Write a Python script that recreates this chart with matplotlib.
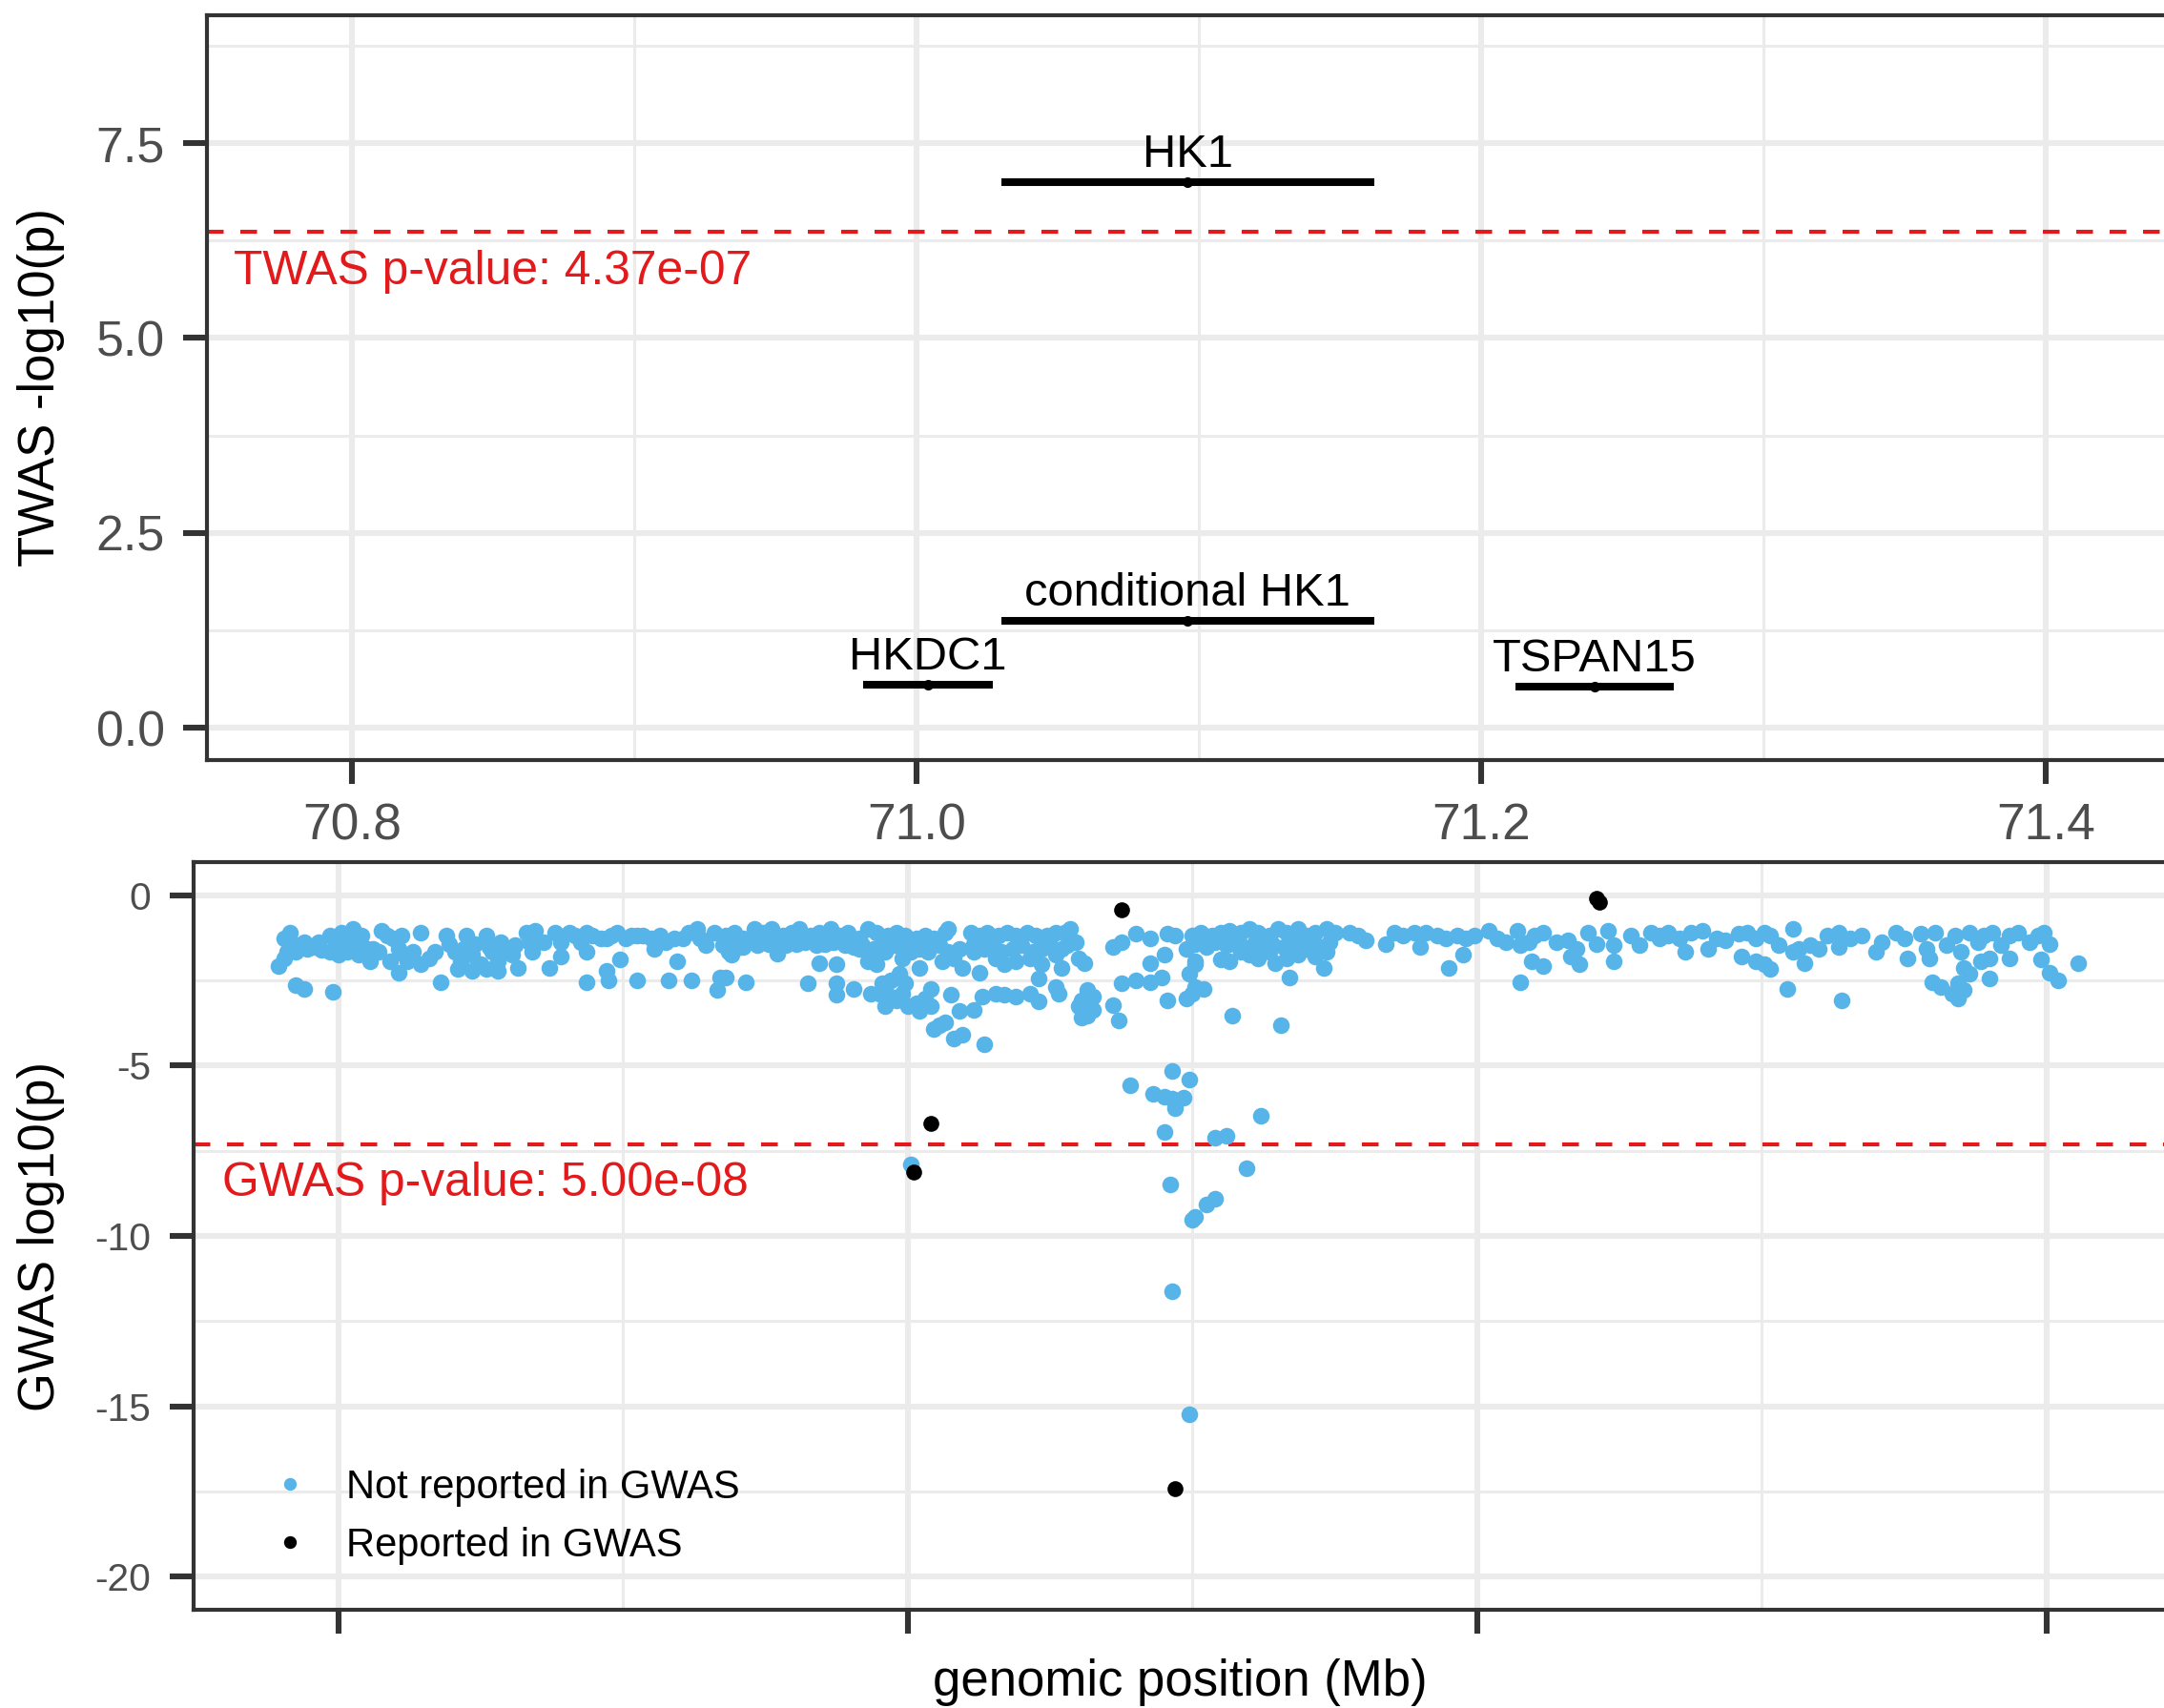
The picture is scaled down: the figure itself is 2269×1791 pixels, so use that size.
import numpy as np
import matplotlib
matplotlib.use("Agg")
import matplotlib.pyplot as plt
from matplotlib.lines import Line2D
from matplotlib.ticker import MultipleLocator, FormatStrFormatter

plt.rcParams['font.family'] = ['Liberation Sans', 'DejaVu Sans']
plt.rcParams['axes.unicode_minus'] = False

# TWAS genes (Mb, -log10 p)
genes = ['HKDC1', 'HK1', 'conditional HK1', 'TSPAN15']
gene_start = [70.981, 71.030, 71.030, 71.212]
gene_end = [71.027, 71.162, 71.162, 71.268]
gene_logp = [0.55, 7.00, 1.37, 0.53]

twas_p = 4.37e-07
gwas_p = 5.00e-08

# GWAS SNPs not reported in GWAS (Mb, log10 p)
snp_pos = [
    # 70.78 - 70.94
    70.779, 70.781, 70.783, 70.782, 70.781, 70.784, 70.786, 70.788, 70.791, 70.794,
    70.797, 70.797, 70.799, 70.801, 70.803, 70.805, 70.806, 70.808, 70.811, 70.812,
    70.815, 70.814, 70.817, 70.819, 70.822, 70.818, 70.821, 70.824, 70.826, 70.829,
    70.829, 70.832, 70.834, 70.836, 70.838, 70.841, 70.843, 70.845, 70.847, 70.850,
    70.852, 70.854, 70.856, 70.858, 70.861, 70.863, 70.866, 70.868, 70.869, 70.872,
    70.874, 70.876, 70.878, 70.881, 70.883, 70.885, 70.887, 70.887, 70.889, 70.894,
    70.894, 70.895, 70.898, 70.899, 70.903, 70.905, 70.907, 70.911, 70.913, 70.916,
    70.918, 70.919, 70.923, 70.924, 70.926, 70.929, 70.933, 70.934, 70.936, 70.937,
    70.785, 70.788, 70.798,
    70.839, 70.844, 70.848, 70.853, 70.857, 70.862, 70.842, 70.847, 70.852, 70.856,
    70.821, 70.823, 70.800, 70.802, 70.807, 70.810, 70.785, 70.789, 70.793, 70.867,
    70.878, 70.887, 70.892, 70.896, 70.901, 70.905, 70.910, 70.915, 70.921, 70.927,
    70.932, 70.935,
    # 70.94 - 71.10
    70.936, 70.939, 70.942, 70.946, 70.949, 70.952, 70.956, 70.959, 70.962, 70.966,
    70.969, 70.973, 70.976, 70.979, 70.983, 70.986, 70.989, 70.993, 70.996, 70.999,
    71.003, 71.006, 71.009, 71.013, 71.014, 71.022, 71.025, 71.028, 71.032, 71.035,
    71.038, 71.042, 71.045, 71.049, 71.052, 71.055, 71.057, 71.059,
    70.937, 70.941, 70.944, 70.947, 70.951, 70.954, 70.957, 70.961, 70.964, 70.968,
    70.971, 70.974, 70.978, 70.981, 70.984, 70.988, 70.991, 70.994, 70.998, 71.001,
    71.004, 71.008, 71.011, 71.014, 71.018, 71.023, 71.027, 71.030, 71.033, 71.037,
    71.040, 71.044, 71.047, 71.050, 71.054, 71.056,
    70.938, 70.942, 70.954, 70.969, 70.975, 70.983, 70.986, 70.989, 70.992, 70.995,
    70.998, 71.004, 71.007, 71.012, 71.016, 71.019, 71.025, 71.023, 71.031, 71.034,
    71.038, 71.043, 71.047, 71.052, 71.054, 71.060, 71.062,
    70.936, 70.943, 70.965, 70.975, 70.975, 70.981, 70.987, 70.991, 70.994, 70.997,
    70.999, 70.992, 70.996, 71.000, 71.004, 71.008, 71.008, 71.015, 71.018, 71.023,
    71.026, 71.031, 71.034, 71.038, 71.043, 71.046, 71.046, 71.052, 71.053, 71.061,
    71.063, 71.065, 71.061, 71.065, 71.072, 71.074, 71.075, 71.080, 71.085, 71.089,
    71.085, 71.090, 71.091, 71.098, 71.099, 71.101, 71.101,
    70.994, 70.998, 71.003, 71.006, 70.990, 71.062, 71.063, 71.060,
    71.009, 71.013, 71.016, 71.019, 71.027, 71.011,
    71.072, 71.075, 71.080, 71.085, 71.091, 71.094, 71.098, 71.101,
    # 71.10 - 71.27
    71.100, 71.103, 71.107, 71.110, 71.113, 71.117, 71.120, 71.123, 71.127, 71.130,
    71.133, 71.137, 71.140, 71.143, 71.147, 71.150, 71.155, 71.158, 71.161, 71.168,
    71.171, 71.174, 71.178, 71.180, 71.182, 71.186, 71.189, 71.193, 71.196, 71.199,
    71.204, 71.207, 71.210, 71.214, 71.215, 71.218, 71.220, 71.223, 71.228, 71.232,
    71.235, 71.239, 71.242, 71.246, 71.248, 71.254, 71.257, 71.261, 71.264, 71.267,
    71.101, 71.105, 71.108, 71.112, 71.115, 71.118, 71.122, 71.125, 71.128, 71.132,
    71.135, 71.138, 71.142, 71.145, 71.148,
    71.101, 71.110, 71.113, 71.117, 71.120, 71.123, 71.127, 71.129, 71.133, 71.137,
    71.140, 71.143, 71.146, 71.147, 71.190, 71.195, 71.219, 71.223, 71.233, 71.236,
    71.248,
    71.100, 71.104, 71.134, 71.215, 71.114, 71.131,
    # 71.26 - 71.41
    71.264, 71.267, 71.271, 71.273, 71.275, 71.279, 71.281, 71.284, 71.287, 71.292,
    71.295, 71.298, 71.301, 71.303, 71.306, 71.311, 71.313, 71.317, 71.320, 71.323,
    71.327, 71.327, 71.331, 71.335, 71.340, 71.342, 71.347, 71.350, 71.351, 71.356,
    71.358, 71.359, 71.361, 71.365, 71.368, 71.370, 71.373, 71.376, 71.378, 71.381,
    71.384, 71.387, 71.387, 71.390, 71.394, 71.397, 71.399, 71.401, 71.411,
    71.293, 71.298, 71.301, 71.303, 71.311, 71.315, 71.371, 71.373, 71.377, 71.380,
    71.380, 71.398, 71.401, 71.404,
    71.309, 71.328, 71.360, 71.363, 71.367, 71.369, 71.371, 71.369,
    # strong signal near HK1
    71.078, 71.093, 71.099, 71.086, 71.090, 71.093, 71.097, 71.094, 71.094, 71.124,
    71.090, 71.108, 71.112, 71.001, 71.119, 71.092, 71.108, 71.105, 71.101, 71.100,
    71.093, 71.099,
]
snp_logp = [
    -2.08, -1.27, -1.08, -1.65, -1.84, -1.42, -1.46, -1.37, -1.51, -1.60,
    -1.18, -1.65, -1.46, -1.08, -1.65, -0.99, -1.42, -1.18, -1.93, -1.56,
    -1.04, -1.65, -1.18, -1.27, -1.18, -1.93, -2.26, -1.93, -1.65, -1.08,
    -2.03, -1.84, -1.65, -2.55, -1.18, -1.65, -1.93, -1.18, -1.75, -2.03,
    -1.18, -1.65, -1.93, -1.56, -1.75, -2.12, -1.08, -1.65, -1.04, -1.37,
    -2.12, -1.08, -1.79, -1.08, -1.18, -1.37, -1.65, -2.55, -1.18, -1.27,
    -2.22, -2.50, -1.08, -1.89, -1.18, -2.50, -1.18, -1.56, -1.18, -2.50,
    -1.27, -1.93, -1.08, -2.50, -0.99, -1.46, -2.78, -2.41, -1.27, -1.65,
    -2.64, -2.74, -2.83,
    -1.42, -1.56, -1.42, -1.51, -1.37, -1.46, -2.17, -2.22, -2.17, -2.22,
    -1.56, -1.75, -1.75, -1.37, -1.75, -1.56, -1.65, -1.56, -1.37, -1.37,
    -1.37, -1.08, -1.27, -1.18, -1.27, -1.18, -1.27, -1.37, -1.27, -1.27,
    -1.08, -1.46,
    -1.18, -1.08, -1.27, -0.99, -1.08, -0.99, -1.18, -1.08, -0.99, -1.18,
    -1.08, -0.99, -1.18, -1.08, -1.27, -0.99, -1.08, -1.18, -1.08, -1.18,
    -1.27, -1.18, -1.27, -1.08, -0.99, -1.08, -1.18, -1.08, -1.18, -1.08,
    -1.18, -1.08, -1.18, -1.18, -1.08, -1.08, -0.99, -1.37,
    -1.42, -1.51, -1.37, -1.46, -1.42, -1.37, -1.46, -1.42, -1.37, -1.46,
    -1.42, -1.37, -1.46, -1.51, -1.46, -1.56, -1.51, -1.46, -1.42, -1.65,
    -1.56, -1.42, -1.46, -1.65, -1.56, -1.42, -1.56, -1.46, -1.65, -1.56,
    -1.46, -1.65, -1.56, -1.46, -1.56, -1.46,
    -1.75, -1.51, -1.70, -1.98, -2.03, -1.56, -1.93, -2.03, -1.65, -1.46,
    -1.84, -2.12, -1.65, -1.93, -1.84, -2.12, -2.26, -1.65, -1.84, -2.03,
    -1.93, -1.84, -2.03, -1.75, -2.12, -1.84, -1.98,
    -2.41, -2.55, -2.59, -2.59, -2.92, -2.74, -2.88, -2.59, -2.50, -2.31,
    -2.59, -3.25, -3.07, -3.25, -3.40, -3.25, -2.74, -2.92, -3.40, -3.35,
    -2.97, -2.88, -2.92, -2.97, -2.88, -3.11, -2.45, -2.69, -2.88, -3.07,
    -2.78, -2.97, -3.58, -3.35, -3.21, -3.68, -2.59, -2.50, -2.55, -2.41,
    -1.98, -1.75, -3.07, -3.02, -2.31, -2.69, -2.03,
    -2.97, -2.88, -3.16, -3.02, -2.88, -3.35, -3.54, -3.25,
    -3.92, -3.73, -4.20, -4.10, -4.37, -3.82,
    -1.51, -1.37, -1.13, -1.27, -1.13, -1.18, -1.56, -1.18,
    -1.18, -1.08, -1.18, -1.08, -1.04, -1.08, -0.99, -1.08, -1.18, -0.99,
    -1.08, -0.99, -1.18, -1.08, -0.99, -1.08, -1.08, -1.18, -1.32, -1.42,
    -1.08, -1.18, -1.08, -1.51, -1.08, -1.18, -1.27, -1.18, -1.27, -1.18,
    -1.04, -1.27, -1.37, -1.04, -1.46, -1.37, -1.18, -1.08, -1.37, -1.32,
    -1.56, -1.08, -1.42, -1.04, -1.46, -1.18, -1.46, -1.08, -1.27, -1.18,
    -1.42, -1.51, -1.37, -1.46, -1.42, -1.51, -1.37, -1.46, -1.42, -1.51,
    -1.37, -1.46, -1.42, -1.51, -1.37,
    -1.93, -1.89, -1.93, -1.65, -1.75, -1.84, -1.65, -1.98, -1.84, -1.75,
    -1.56, -1.79, -2.12, -1.65, -2.12, -1.75, -1.93, -2.08, -1.79, -2.03,
    -1.93,
    -2.88, -2.74, -2.41, -2.55, -3.52, -3.82,
    -1.18, -1.08, -1.27, -1.65, -1.08, -1.04, -1.56, -1.27, -1.32, -1.13,
    -1.08, -1.27, -1.08, -1.18, -1.46, -0.99, -1.56, -1.46, -1.56, -1.18,
    -1.08, -1.51, -1.27, -1.18, -1.65, -1.37, -1.08, -1.27, -1.84, -1.13,
    -1.56, -1.84, -1.08, -1.46, -1.18, -1.65, -1.08, -1.37, -1.18, -1.08,
    -1.46, -1.18, -1.84, -1.08, -1.37, -1.18, -1.08, -1.42, -1.98,
    -1.79, -1.93, -2.03, -2.17, -1.65, -1.98, -2.12, -2.31, -1.93, -1.84,
    -2.45, -1.89, -2.26, -2.50,
    -2.74, -3.08, -2.55, -2.69, -2.88, -3.02, -2.78, -2.59,
    -5.57, -5.15, -5.40, -5.82, -5.91, -5.96, -5.93, -6.24, -6.10, -6.47,
    -6.94, -7.12, -7.05, -7.89, -8.02, -8.50, -8.90, -9.07, -9.44, -9.53,
    -11.63, -15.25,
]

# SNPs reported in GWAS
rep_pos = [71.075, 71.242, 71.243, 71.008, 71.002, 71.094]
rep_logp = [-0.42, -0.09, -0.19, -6.70, -8.11, -17.42]

blue = '#56B4E9'
red = '#E31A1C'
grid_col = '#EBEBEB'
dark = '#333333'

W, H = 2269, 1791
fig = plt.figure(figsize=(W / 200, H / 200), dpi=200)
ax1 = fig.add_axes([217 / W, 1 - 797 / H, (2290 - 217) / W, (797 - 16) / H])
ax2 = fig.add_axes([203 / W, 1 - 1688 / H, (2290 - 203) / W, (1688 - 904) / H])


def style(ax, ylab_size):
    ax.set_axisbelow(True)
    ax.xaxis.set_major_locator(MultipleLocator(0.2))
    ax.xaxis.set_minor_locator(MultipleLocator(0.1))
    ax.grid(which='major', color=grid_col, lw=2.2)
    ax.grid(which='minor', color=grid_col, lw=1.1)
    for s in ax.spines.values():
        s.set_color(dark)
        s.set_linewidth(1.5)
    ax.tick_params(which='major', length=9, width=2.2, color=dark,
                   labelcolor='#4D4D4D', labelsize=ylab_size, pad=7)
    ax.tick_params(which='minor', length=0)


# top panel: TWAS
style(ax1, 18.7)
for s, e, p, g in zip(gene_start, gene_end, gene_logp, genes):
    ax1.plot([s, e], [p, p], color='black', lw=2.9, solid_capstyle='butt', zorder=3)
    ax1.plot([(s + e) / 2], [p], 'o', color='black', ms=3.0, zorder=3)
    ax1.annotate(g, xy=((s + e) / 2, p), xytext=(0, 5.8), textcoords='offset points',
                 ha='center', va='baseline', fontsize=17.6, color='black')
twas_line = -np.log10(twas_p)
ax1.axhline(twas_line, color=red, lw=1.5, ls=(0, (4.2, 4.2)), zorder=2)
ax1.annotate('TWAS p-value: %.2e' % twas_p, xy=(70.758, twas_line), xytext=(0, -19.8),
             textcoords='offset points', ha='left', va='baseline', fontsize=17.9, color=red)
ax1.set_xlim(70.7486, 71.4489)
ax1.set_ylim(-0.416, 9.14)
ax1.yaxis.set_major_locator(MultipleLocator(2.5))
ax1.yaxis.set_minor_locator(MultipleLocator(1.25))
ax1.yaxis.set_major_formatter(FormatStrFormatter('%.1f'))
ax1.xaxis.set_major_formatter(FormatStrFormatter('%.1f'))
ax1.tick_params(axis='x', labelsize=19.2)

# bottom panel: GWAS
style(ax2, 14.7)
ax2.scatter(snp_pos, snp_logp, s=40, color=blue, linewidths=0, zorder=3)
ax2.scatter(rep_pos, rep_logp, s=36, color='black', linewidths=0, zorder=4)
gwas_line = np.log10(gwas_p)
ax2.axhline(gwas_line, color=red, lw=1.5, ls=(0, (4.2, 4.2)), zorder=2)
ax2.annotate('GWAS p-value: %.2e' % gwas_p, xy=(70.759, gwas_line), xytext=(0, -19.6),
             textcoords='offset points', ha='left', va='baseline', fontsize=17.9, color=red)
ax2.set_xlim(70.7491, 71.4483)
ax2.set_ylim(-20.98, 0.98)
ax2.yaxis.set_major_locator(MultipleLocator(5))
ax2.yaxis.set_minor_locator(MultipleLocator(2.5))
ax2.yaxis.set_major_formatter(FormatStrFormatter('%d'))
ax2.tick_params(axis='x', labelbottom=False)

handles = [Line2D([], [], ls='', marker='o', ms=4.8, color=blue, mec='none'),
           Line2D([], [], ls='', marker='o', ms=4.8, color='black', mec='none')]
ax2.legend(handles, ['Not reported in GWAS', 'Reported in GWAS'], loc='upper left',
           bbox_to_anchor=(283 / W, 1 - 1540 / H), bbox_transform=fig.transFigure,
           frameon=False, fontsize=15, handlelength=1.0, handletextpad=0.915,
           borderpad=0, borderaxespad=0, labelspacing=0.5)

# axis titles
fig.text(43 / W, 1 - 406 / H, 'TWAS -log10(p)', rotation=90, ha='center', va='center', fontsize=19)
fig.text(43 / W, 1 - 1296 / H, 'GWAS log10(p)', rotation=90, ha='center', va='center', fontsize=19)
fig.text(1237 / W, 1 - 1764 / H, 'genomic position (Mb)', ha='center', va='center', fontsize=19)

fig.savefig('out.png', dpi=200)
